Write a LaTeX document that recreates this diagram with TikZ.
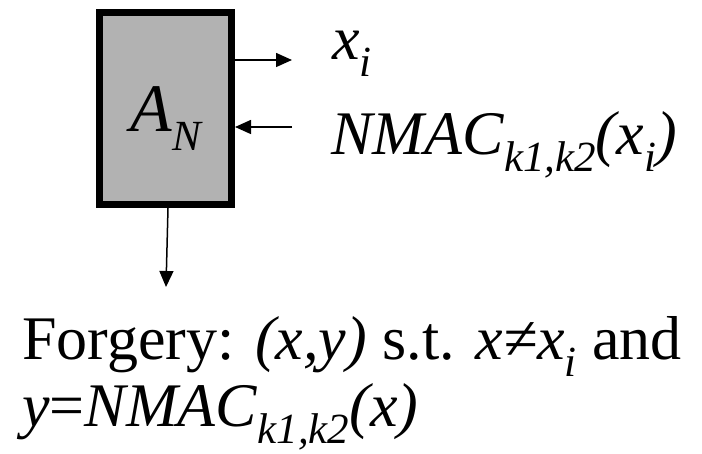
\documentclass[tikz,border=0pt]{standalone}
\usepackage{fontspec}
\setmainfont{Liberation Serif}
\usetikzlibrary{arrows.meta,positioning}
\definecolor{advgray}{gray}{0.7}
\newcommand{\lowsub}[1]{\raisebox{-0.27em}{\fontsize{43}{43}\selectfont\itshape #1}}

\begin{document}
\begin{tikzpicture}[x=1pt, y=-1pt,
  box/.style={
    draw=black, line width=7pt, fill=advgray,
    minimum width=132pt, minimum height=192pt, inner sep=0pt,
    font=\fontsize{68}{68}\selectfont, text height=47pt, text depth=0pt
  },
  arrow/.style={-{Triangle[length=16pt,width=14pt]}, line width=1.5pt},
  lbl/.style={font=\fontsize{62}{62}\selectfont, inner sep=0pt, anchor=base west}
]
\useasboundingbox (0,0) rectangle (702,454);
\node[box] (adv) at (165.5,108.5) {\textit{A}\lowsub{N}};

\node[lbl] (xi) at (332,60) {\textit{x}\lowsub{i}};
\node[lbl] (mac) at (331,155) {\textit{NMAC}\lowsub{k1,k2}\textit{(x}\lowsub{i}\textit{)}};
\node[lbl] (forge1) at (22,360) {Forgery: \textit{(x,y)} s.t. \textit{x≠x}\lowsub{i} and};
\node[lbl] (forge2) at ([yshift=-67pt]forge1.base west) {\textit{y}=\textit{NMAC}\lowsub{k1,k2}\textit{(x)}};

\coordinate (xtip) at (292,60);
\coordinate (macin) at (292,127);
\coordinate (fgtip) at (166,287);
\draw[arrow] (adv.east |- xtip) -- (xtip);
\draw[arrow] (macin) -- (adv.east |- macin);
\draw[arrow] ([xshift=2.5pt]adv.south) -- (fgtip);
\end{tikzpicture}
\end{document}
